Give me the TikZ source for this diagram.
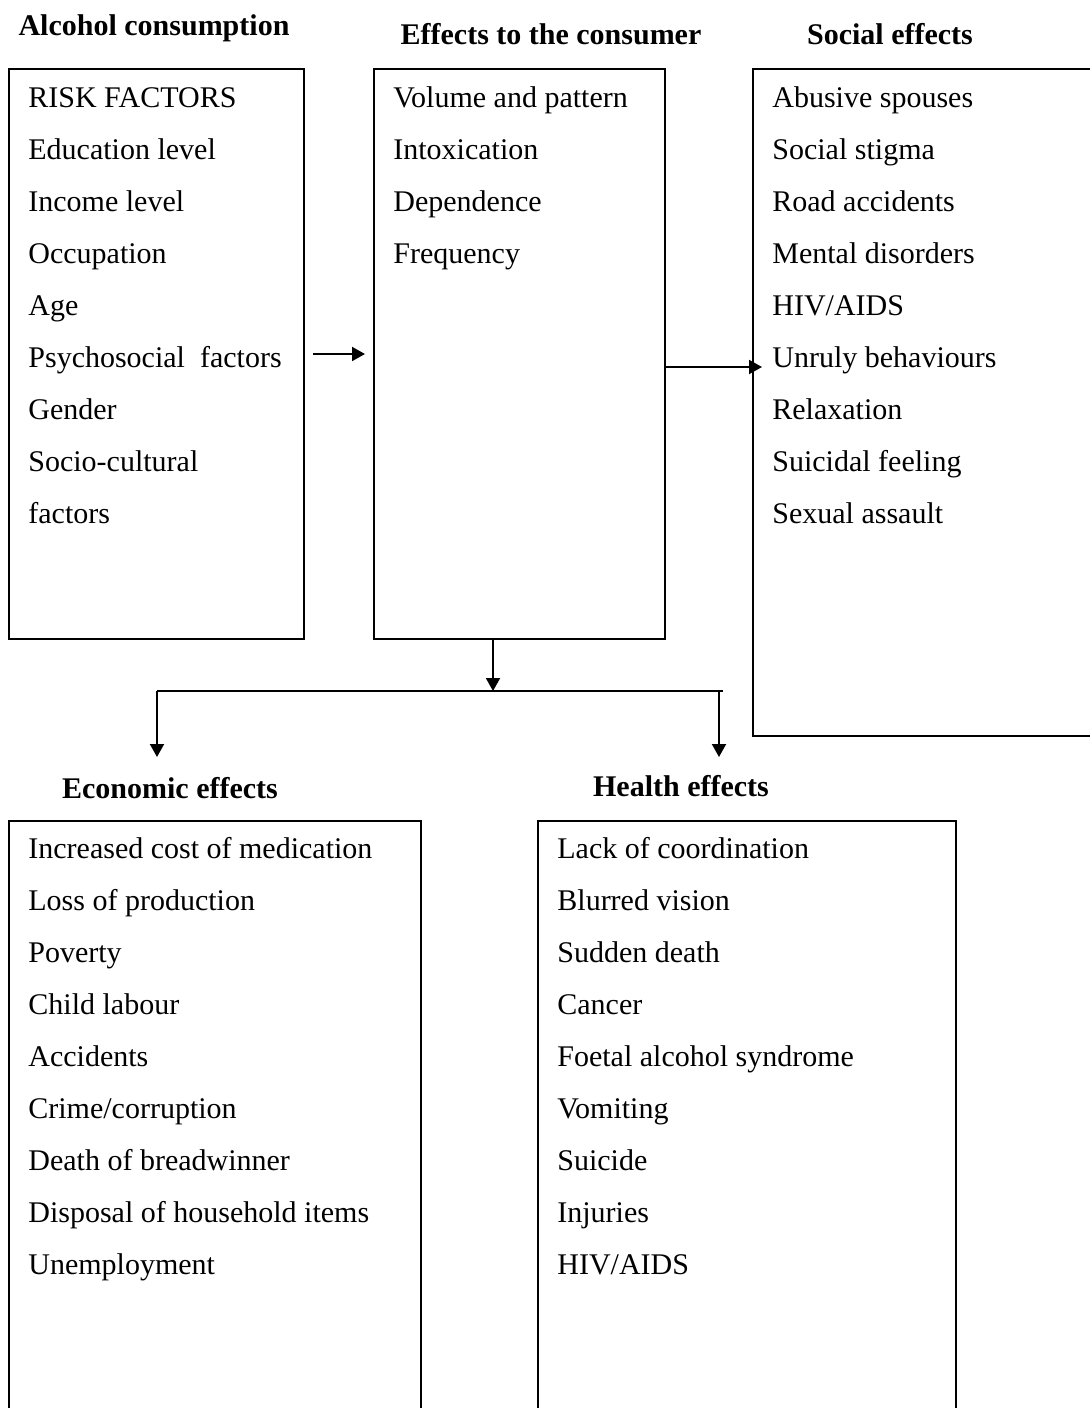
\documentclass[tikz,border=0pt]{standalone}
\usepackage{fontspec}
\setmainfont{Liberation Serif}
\usetikzlibrary{positioning}
\usetikzlibrary{arrows.meta}
\tikzset{
    box/.style={draw, line width=1pt, anchor=north west, inner sep=0pt},
    items/.style={anchor=base west, inner sep=0pt, text width=190pt, align=flush left,
        font=\fontsize{15}{26}\selectfont,
        execute at begin node={\spaceskip=0pt\xspaceskip=0pt}},
    heading/.style={anchor=base, inner sep=0pt,
        font=\fontsize{15}{18}\selectfont\bfseries},
    arr/.style={-{Triangle[length=6.5pt,width=7pt]}, line width=1pt},
}

\begin{document}
\begin{tikzpicture}[x=0.5pt,y=-0.5pt]
    \useasboundingbox (0,0) rectangle (1090,1408);
    \clip (0,0) rectangle (1090,1408);

    % Boxes
    \node[box, minimum width=147.5pt, minimum height=285pt]   (consump)  at (8,68)   {};
    \node[box, minimum width=145.5pt, minimum height=285pt]   (consumer) at (373,68) {};
    \node[box, minimum width=174pt,   minimum height=333.5pt] (social)   at (752,68) {};
    \node[box, minimum width=206pt,   minimum height=305pt]   (econ)     at (8,820)  {};
    \node[box, minimum width=209pt,   minimum height=305pt]   (health)   at (537,820) {};

    % Headings
    \node[heading] (consumphead)  at (154,35)  {Alcohol consumption};
    \node[heading] (consumerhead) at (551,44)  {Effects to the consumer};
    \node[heading] (socialhead)   at (890,44)  {Social effects};
    \node[heading] (econhead)     at (170,798) {Economic effects};
    \node[heading] (healthhead)   at (681,796) {Health effects};

    % Lists
    \node[items] (consumplist) at (28,107) {RISK FACTORS\\Education level\\Income level\\
        Occupation\\Age\\Psychosocial\ \ factors\\Gender\\Socio-cultural\\factors};
    \node[items] (consumerlist) at (393,107) {Volume and pattern\\Intoxication\\
        Dependence\\Frequency};
    \node[items] (sociallist) at (772,107) {Abusive spouses\\Social stigma\\
        Road accidents\\Mental disorders\\HIV/AIDS\\Unruly behaviours\\Relaxation\\
        Suicidal feeling\\Sexual assault};
    \node[items] (econlist) at (28,858) {Increased cost of medication\\Loss of production\\
        Poverty\\Child labour\\Accidents\\Crime/corruption\\Death of breadwinner\\
        Disposal of household items\\Unemployment};
    \node[items] (healthlist) at (557,858) {Lack of coordination\\Blurred vision\\
        Sudden death\\Cancer\\Foetal alcohol syndrome\\Vomiting\\Suicide\\Injuries\\HIV/AIDS};

    % branching coordinates
    \coordinate (socin)    at (762,367);
    \coordinate (split)    at (493,691);
    \coordinate (barend)   at (723,691);
    \coordinate (econin)   at (157,757);
    \coordinate (healthin) at (719,757);

    % Lines
    \draw[arr] ([xshift=4pt]consump.east) -- ([xshift=-4pt]consumer.west);
    \draw[arr] (consumer.east |- socin) -- (socin);
    \draw[arr] (consumer.south -| split) -- (split);
    \draw[line width=1pt] (econin |- split) -- (barend);
    \draw[arr] (econin |- split) -- (econin);
    \draw[arr] (healthin |- split) -- (healthin);
\end{tikzpicture}
\end{document}
